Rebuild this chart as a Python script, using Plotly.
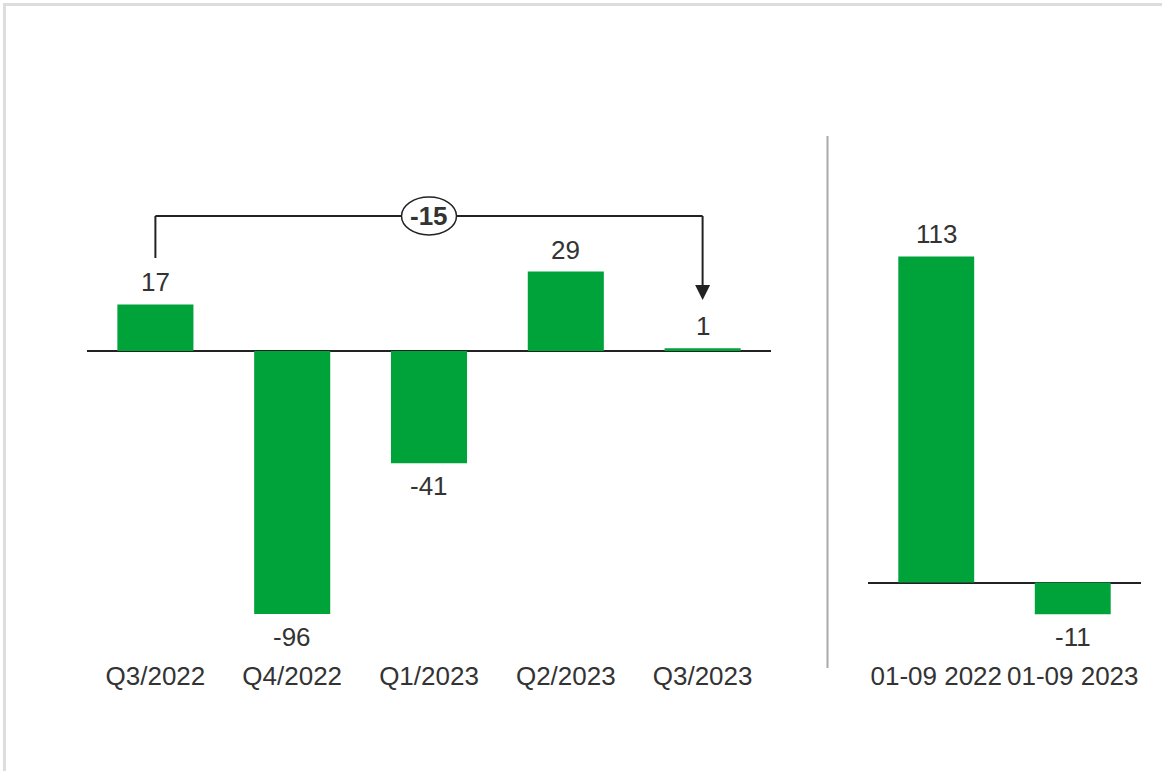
import plotly.graph_objects as go

# ---- data ----
quarters = ["Q3/2022", "Q4/2022", "Q1/2023", "Q2/2023", "Q3/2023"]
quarter_values = [17, -96, -41, 29, 1]
periods = ["01-09 2022", "01-09 2023"]
period_values = [113, -11]
change_label = "-15"

# ---- style / layout constants ----
W, H = 1162, 771
GREEN = "#00A23A"
TXT = "#333333"
FONT = "Arial, Liberation Sans, sans-serif"
FS = 26

def py(px):  # pixel y -> paper y
    return 1 - px / H

def pxx(px):  # pixel x -> paper x
    return px / W

# left panel geometry (pixels)
L_X0, L_X1 = 87, 771
L_ZERO, L_SCALE = 351, 2.74
# right panel geometry
R_X0, R_X1 = 868, 1141
R_ZERO, R_SCALE = 582.5, 2.885
TOP_PX, BOT_PX = 110, 658

yl_range = [-(BOT_PX - L_ZERO) / L_SCALE, (L_ZERO - TOP_PX) / L_SCALE]
yr_range = [-(BOT_PX - R_ZERO) / R_SCALE, (R_ZERO - TOP_PX) / R_SCALE]

fig = go.Figure()
fig.add_trace(go.Bar(x=quarters, y=quarter_values, marker_color=GREEN,
                     marker_line_width=0, width=0.556, xaxis="x", yaxis="y",
                     hoverinfo="x+y"))
fig.add_trace(go.Bar(x=periods, y=period_values, marker_color=GREEN,
                     marker_line_width=0, width=0.556, xaxis="x2", yaxis="y2",
                     hoverinfo="x+y"))

annotations = []
for cats, vals, xr, yr in [(quarters, quarter_values, "x", "y"),
                           (periods, period_values, "x2", "y2")]:
    for c, v in zip(cats, vals):
        annotations.append(dict(
            x=c, y=v, xref=xr, yref=yr, text=str(v), showarrow=False,
            yanchor="bottom" if v >= 0 else "top",
            yshift=5 if v >= 0 else -6,
            font=dict(family=FONT, size=FS, color=TXT)))

# bracket from first quarter to last quarter
BR_TOP = 216
BR_START = 258
BR_END = 286
ARROW_TIP = 300
shapes = []
first, last = quarters[0], quarters[-1]
shapes.append(dict(type="line", xref="x", yref="paper", x0=first, x1=first,
                   y0=py(BR_START), y1=py(BR_TOP), line=dict(color="#222", width=2)))
shapes.append(dict(type="line", xref="x", yref="paper", x0=first, x1=last,
                   y0=py(BR_TOP), y1=py(BR_TOP), line=dict(color="#222", width=2)))
shapes.append(dict(type="line", xref="x", yref="paper", x0=last, x1=last,
                   y0=py(BR_TOP), y1=py(BR_END), line=dict(color="#222", width=2)))
# arrow head
shapes.append(dict(type="path", xref="x", yref="paper", xsizemode="pixel", xanchor=4,
                   path=f"M -7.5,{py(BR_END-1)} L 7.5,{py(BR_END-1)} L 0,{py(ARROW_TIP)} Z",
                   fillcolor="#222", line=dict(color="#222", width=0)))
# oval
shapes.append(dict(type="circle", xref="x", yref="paper", xsizemode="pixel", xanchor=2,
                   x0=-27.5, x1=27.5, y0=py(BR_TOP + 19), y1=py(BR_TOP - 19),
                   fillcolor="white", line=dict(color="#222", width=1.5)))
annotations.append(dict(x=quarters[2], y=py(BR_TOP), xref="x", yref="paper",
                        xanchor="center", yanchor="middle",
                        text=f"<b>{change_label}</b>", showarrow=False,
                        font=dict(family=FONT, size=26, color=TXT)))
# separator
shapes.append(dict(type="line", xref="paper", yref="paper", x0=pxx(827.5), x1=pxx(827.5),
                   y0=py(136), y1=py(668), line=dict(color="#AAAAAA", width=2)))
# frame (top & left)
shapes.append(dict(type="line", xref="paper", yref="paper", x0=pxx(3), x1=1,
                   y0=py(4.5), y1=py(4.5), line=dict(color="#DDDDDD", width=3)))
shapes.append(dict(type="line", xref="paper", yref="paper", x0=pxx(4.5), x1=pxx(4.5),
                   y0=py(3), y1=0, line=dict(color="#DDDDDD", width=3)))

axis_common = dict(showgrid=False, showline=False, ticks="",
                   tickfont=dict(family=FONT, size=FS, color=TXT), fixedrange=True)
fig.update_layout(
    width=W, height=H, margin=dict(l=0, r=0, t=0, b=0),
    paper_bgcolor="white", plot_bgcolor="white", showlegend=False,
    xaxis=dict(domain=[pxx(L_X0), pxx(L_X1)], anchor="y", range=[-0.5, 4.5], **axis_common),
    yaxis=dict(domain=[py(BOT_PX), py(TOP_PX)], anchor="x", range=yl_range,
               showticklabels=False, zeroline=True, zerolinecolor="#222",
               zerolinewidth=2, showgrid=False, fixedrange=True),
    xaxis2=dict(domain=[pxx(R_X0), pxx(R_X1)], anchor="y2", range=[-0.5, 1.5], **axis_common),
    yaxis2=dict(domain=[py(BOT_PX), py(TOP_PX)], anchor="x2", range=yr_range,
                showticklabels=False, zeroline=True, zerolinecolor="#222",
                zerolinewidth=2, showgrid=False, fixedrange=True),
    annotations=annotations, shapes=shapes,
)
fig.write_html("out.html")
